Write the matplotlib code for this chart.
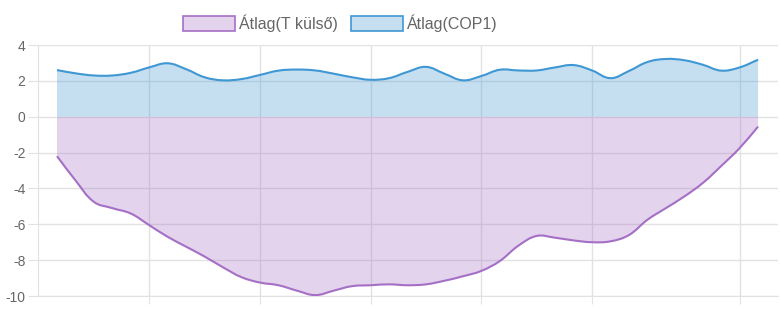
import numpy as np
import matplotlib.pyplot as plt
from matplotlib.path import Path
from matplotlib.patches import PathPatch, Rectangle

plt.rcParams['font.family'] = ['Liberation Sans', 'DejaVu Sans']
plt.rcParams['axes.unicode_minus'] = False

series_names = ['Átlag(T külső)', 'Átlag(COP1)']

t_kulso = [-2.2, -3.55, -4.75, -5.1, -5.4, -6.05, -6.7, -7.25, -7.8, -8.4,
           -8.95, -9.25, -9.4, -9.7, -9.95, -9.7, -9.45, -9.4, -9.35, -9.4,
           -9.35, -9.15, -8.9, -8.6, -8.05, -7.2, -6.65, -6.75, -6.9, -7.0,
           -6.95, -6.6, -5.75, -5.1, -4.45, -3.7, -2.75, -1.75, -0.55]

cop1 = [2.6, 2.42, 2.3, 2.3, 2.45, 2.75, 2.98, 2.65, 2.2, 2.03,
        2.1, 2.33, 2.57, 2.63, 2.58, 2.4, 2.2, 2.06, 2.15, 2.5,
        2.78, 2.4, 2.03, 2.27, 2.62, 2.58, 2.58, 2.75, 2.88, 2.58,
        2.15, 2.55, 3.05, 3.22, 3.15, 2.9, 2.57, 2.75, 3.18]

# indices where the (hidden) x labels sit
x_tick_idx = [5, 11, 17, 23, 29, 37]

purple_line = '#a56fc6'
blue_line = '#3f97d3'
grid_col = '#e2e2e2'


def spline(x, y, tension=0.4):
    # bezier control points like chart.js line tension
    n = len(x)
    cps = []
    for i in range(n):
        p = max(i - 1, 0)
        q = min(i + 1, n - 1)
        d01 = np.hypot(x[i] - x[p], y[i] - y[p])
        d12 = np.hypot(x[q] - x[i], y[q] - y[i])
        tot = d01 + d12
        fa = tension * d01 / tot if tot else 0
        fb = tension * d12 / tot if tot else 0
        dx = x[q] - x[p]
        dy = y[q] - y[p]
        cps.append(((x[i] - fa * dx, y[i] - fa * dy), (x[i] + fb * dx, y[i] + fb * dy)))
    verts = [(x[0], y[0])]
    codes = [Path.MOVETO]
    for i in range(1, n):
        verts += [cps[i - 1][1], cps[i][0], (x[i], y[i])]
        codes += [Path.CURVE4] * 3
    return verts, codes


def draw_area(ax, vals, col):
    x = np.arange(len(vals), dtype=float)
    y = np.array(vals, dtype=float)
    verts, codes = spline(x, y)
    fverts = verts + [(x[-1], 0), (x[0], 0), (x[0], y[0])]
    fcodes = codes + [Path.LINETO, Path.LINETO, Path.CLOSEPOLY]
    ax.add_patch(PathPatch(Path(fverts, fcodes), facecolor=col, alpha=0.3,
                           edgecolor='none', zorder=2))
    ax.add_patch(PathPatch(Path(verts, codes), facecolor='none', edgecolor=col,
                           lw=1.5, zorder=3))


fig = plt.figure(figsize=(7.8, 3.1), dpi=100)
ax = fig.add_axes([38 / 780, 1 - 296 / 310, 740 / 780, 251 / 310])

draw_area(ax, t_kulso, purple_line)
draw_area(ax, cop1, blue_line)

ax.set_xlim(-1.03, 39.08)
ax.set_ylim(-10, 4)
ax.set_yticks(range(-10, 5, 2))
ax.set_xticks(x_tick_idx)
ax.set_xticklabels([])
ax.grid(True, color=grid_col, lw=1, zorder=1)
ax.set_axisbelow(True)
ax.tick_params(axis='y', length=7, color=grid_col, labelcolor='#666666', labelsize=10, pad=2)
ax.tick_params(axis='x', length=6, color=grid_col)
for s in ['top', 'right']:
    ax.spines[s].set_visible(False)
for s in ['left', 'bottom']:
    ax.spines[s].set_color(grid_col)

# legend drawn by hand, chart.js style
legend = [(series_names[0], purple_line, 183, 239),
          (series_names[1], blue_line, 351, 407)]
for name, col, bx, tx in legend:
    fig.patches.append(Rectangle((bx / 780, 1 - 31 / 310), 52 / 780, 15 / 310,
                                 transform=fig.transFigure, facecolor=col, alpha=0.3,
                                 edgecolor='none'))
    fig.patches.append(Rectangle((bx / 780, 1 - 31 / 310), 52 / 780, 15 / 310,
                                 transform=fig.transFigure, facecolor='none',
                                 edgecolor=col, lw=1.2))
    fig.text(tx / 780, 1 - 23 / 310, name, color='#666666', fontsize=11.5, va='center')

fig.savefig('out.png', dpi=100)
